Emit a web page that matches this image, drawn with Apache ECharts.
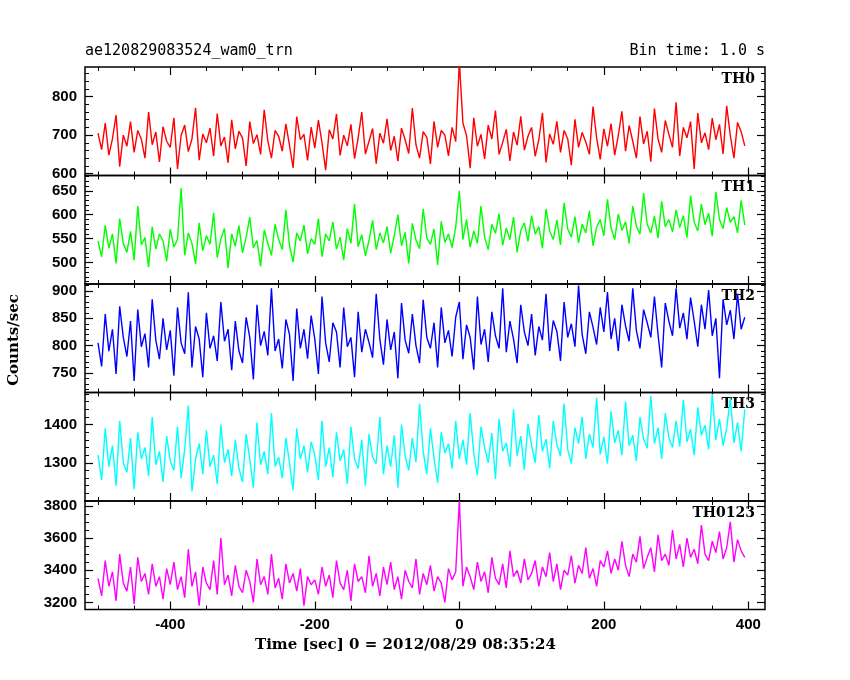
<!DOCTYPE html><html><head><meta charset="utf-8">
<script src="https://cdn.jsdelivr.net/npm/echarts@6/dist/echarts.min.js"></script>
<style>body{margin:0;background:#fff}#c{width:850px;height:680px}</style></head><body><div id="c"></div>
<script>
const T0=-500, STEP=5;
const th0=[705,662,731,648,690,752,618,700,671,735,655,712,689,640,760,675,708,630,722,684,
668,745,612,699,726,657,690,771,635,703,680,718,645,756,672,695,628,740,664,710,
692,620,735,678,701,650,766,685,640,712,697,658,729,673,615,748,688,702,634,721,
666,739,680,609,714,690,755,647,700,672,728,639,693,760,651,684,717,626,705,679,
742,660,697,632,718,688,652,770,675,640,709,694,625,736,668,712,700,646,720,683,
890,731,699,614,745,671,702,638,726,690,764,650,681,715,633,708,674,749,661,697,
720,645,688,758,629,703,676,736,655,712,690,622,741,668,707,682,650,774,693,637,
716,671,730,648,699,762,658,725,684,640,748,677,710,631,769,690,655,738,702,668,
785,646,720,693,735,612,757,680,706,662,744,688,728,651,776,699,640,733,709,672];
const th1=[545,512,578,530,560,498,592,540,521,565,505,618,537,552,490,575,528,560,545,503,
570,532,548,655,515,562,540,497,583,525,556,538,604,510,549,571,488,560,534,577,
520,553,595,531,546,492,568,540,515,580,548,527,610,535,501,562,545,578,518,550,
538,592,512,560,545,585,528,553,505,571,540,622,533,558,514,546,588,527,562,541,
575,519,556,600,535,563,498,582,547,529,612,551,538,570,495,586,542,560,531,574,
650,548,590,532,566,540,618,553,527,580,561,602,536,572,548,595,521,567,583,544,
598,559,575,530,612,566,548,589,537,625,570,553,596,541,580,562,608,535,574,590,
556,632,572,548,601,567,585,540,618,576,559,645,580,562,597,551,628,575,590,564,
610,573,598,552,640,584,566,622,579,603,555,648,590,571,615,584,596,562,630,578];
const th2=[805,762,858,790,830,748,872,815,780,845,735,866,798,822,760,885,810,775,850,792,
828,745,870,805,785,898,760,835,812,742,860,795,818,772,880,808,830,755,845,790,
768,852,815,738,875,800,826,782,905,790,812,758,848,820,735,868,795,830,776,855,
812,748,890,805,770,842,825,760,870,798,815,742,862,788,830,806,778,895,812,765,
848,792,825,740,878,810,786,858,800,768,884,815,795,842,760,870,805,828,780,852,
880,775,838,815,756,890,802,830,770,862,818,795,905,788,845,812,768,875,825,800,
858,782,835,810,895,790,846,826,772,880,815,840,798,910,820,785,862,834,802,870,
825,898,812,850,790,875,836,808,905,828,795,866,842,815,890,820,760,878,845,818,
905,832,860,812,888,845,798,875,830,902,818,850,740,885,838,865,812,895,830,852];
const th3=[1320,1255,1390,1290,1345,1240,1410,1300,1275,1365,1230,1380,1310,1340,1265,1420,1295,1330,1250,1370,
1305,1280,1395,1260,1335,1450,1225,1310,1350,1270,1385,1290,1320,1245,1400,1300,1335,1265,1360,1285,
1250,1375,1310,1235,1405,1295,1330,1270,1430,1290,1315,1260,1365,1300,1228,1390,1310,1345,1275,1355,
1320,1255,1410,1290,1340,1262,1380,1305,1335,1245,1395,1310,1285,1360,1240,1375,1315,1298,1420,1270,
1345,1290,1372,1235,1400,1318,1280,1365,1302,1455,1330,1270,1390,1312,1248,1380,1325,1350,1285,1410,
1310,1360,1295,1430,1325,1268,1395,1340,1300,1378,1258,1415,1330,1352,1290,1440,1318,1370,1282,1402,
1345,1300,1425,1330,1362,1285,1410,1348,1318,1455,1335,1298,1392,1350,1420,1310,1375,1340,1470,1322,
1368,1298,1435,1352,1385,1320,1460,1345,1372,1305,1420,1362,1338,1475,1350,1392,1310,1430,1365,1340,
1410,1342,1465,1355,1388,1320,1445,1372,1398,1335,1480,1360,1415,1345,1390,1470,1352,1405,1330,1440];
const th0123=[3350,3240,3460,3300,3390,3210,3500,3320,3270,3420,3190,3480,3330,3380,3250,3440,3300,3360,3220,3410,
3310,3450,3280,3360,3230,3530,3300,3390,3180,3420,3320,3280,3460,3250,3600,3310,3370,3240,3430,3300,
3260,3400,3330,3200,3470,3310,3360,3250,3500,3290,3350,3220,3440,3320,3380,3270,3410,3180,3360,3310,
3340,3250,3420,3300,3370,3230,3460,3320,3280,3400,3210,3440,3330,3360,3260,3490,3300,3380,3240,3420,
3310,3450,3280,3360,3220,3400,3330,3290,3470,3250,3380,3310,3430,3270,3360,3320,3200,3410,3340,3390,
3830,3300,3420,3360,3280,3450,3330,3390,3260,3480,3350,3310,3440,3290,3520,3360,3400,3320,3470,3340,
3380,3460,3300,3420,3360,3510,3330,3440,3280,3400,3370,3490,3320,3430,3380,3540,3350,3410,3300,3460,
3420,3520,3380,3470,3400,3580,3430,3360,3500,3450,3610,3410,3480,3540,3390,3620,3460,3500,3430,3650,
3470,3560,3420,3600,3480,3530,3440,3680,3500,3460,3580,3510,3640,3470,3540,3700,3450,3590,3520,3480];
const xTicks=[-400,-200,0,200,400];
const xMinor=[-500,-450,-350,-300,-250,-150,-100,-50,50,100,150,250,300,350];
const panelNames=['TH0','TH1','TH2','TH3','TH0123'];
const panelColors=['#ff0000','#00ff00','#0000ff','#00ffff','#ff00ff'];
const panelData=[th0,th1,th2,th3,th0123];
const yRanges=[[595,877],[455,682],[714,913],[1200,1484],[3156,3830]];
const yTicks=[[600,700,800],[500,550,600,650],[750,800,850,900],[1300,1400],[3200,3400,3600,3800]];
const yMinorStep=[20,10,10,20,50];

const tops=[67,175.5,284,392.5,501], H=108.5, L=85, R=85;
const grids=[],xAxes=[],yAxes=[],series=[],graphics=[];
const F='Liberation Sans';
const noLine={show:false,onZero:false};
function minorVals(r,s){const a=[];for(let v=Math.ceil(r[0]/s)*s;v<=r[1];v+=s)a.push(v);return a;}
for(let i=0;i<5;i++){
  grids.push({left:L,right:R,top:tops[i],height:H,show:true,borderColor:'#000',borderWidth:1.5});
  const xb={type:'value',gridIndex:i,min:-518,max:423,splitLine:{show:false},axisLine:noLine};
  const xi=xAxes.length;
  xAxes.push(Object.assign({},xb,{position:'bottom',axisTick:{inside:true,length:8,lineStyle:{color:'#000',width:1.2},customValues:xTicks},
    axisLabel:{show:i===4,customValues:xTicks,color:'#000',fontFamily:F,fontWeight:'bold',fontSize:15,margin:8,formatter:v=>String(v)}}));
  xAxes.push(Object.assign({},xb,{position:'top',axisTick:{inside:true,length:8,lineStyle:{color:'#000',width:1.2},customValues:xTicks},axisLabel:{show:false}}));
  xAxes.push(Object.assign({},xb,{position:'bottom',axisTick:{inside:true,length:4,lineStyle:{color:'#000'},customValues:xMinor},axisLabel:{show:false}}));
  xAxes.push(Object.assign({},xb,{position:'top',axisTick:{inside:true,length:4,lineStyle:{color:'#000'},customValues:xMinor},axisLabel:{show:false}}));
  const yb={type:'value',gridIndex:i,min:yRanges[i][0],max:yRanges[i][1],splitLine:{show:false},axisLine:noLine};
  const yi=yAxes.length;
  const mv=minorVals(yRanges[i],yMinorStep[i]);
  yAxes.push(Object.assign({},yb,{position:'left',axisTick:{inside:true,length:8,lineStyle:{color:'#000',width:1.2},customValues:yTicks[i]},
    axisLabel:{customValues:yTicks[i],color:'#000',fontFamily:F,fontWeight:'bold',fontSize:15,margin:8,formatter:v=>String(v)}}));
  yAxes.push(Object.assign({},yb,{position:'right',axisTick:{inside:true,length:8,lineStyle:{color:'#000',width:1.2},customValues:yTicks[i]},axisLabel:{show:false}}));
  yAxes.push(Object.assign({},yb,{position:'left',axisTick:{inside:true,length:4,lineStyle:{color:'#000'},customValues:mv},axisLabel:{show:false}}));
  yAxes.push(Object.assign({},yb,{position:'right',axisTick:{inside:true,length:4,lineStyle:{color:'#000'},customValues:mv},axisLabel:{show:false}}));
  series.push({type:'line',xAxisIndex:xi,yAxisIndex:yi,symbol:'none',clip:true,
    lineStyle:{color:panelColors[i],width:1.4},data:panelData[i].map((v,k)=>[T0+k*STEP,v])});
  graphics.push({type:'text',right:R+10,top:tops[i]+5,style:{text:panelNames[i],font:'bold 14px "DejaVu Serif"',fill:'#000'}});
}
graphics.push({type:'text',left:L,top:44,style:{text:'ae120829083524_wam0_trn',font:'15px "DejaVu Sans Mono"',fill:'#000'}});
graphics.push({type:'text',right:R,top:44,style:{text:'Bin time: 1.0 s',font:'15px "DejaVu Sans Mono"',fill:'#000'}});
graphics.push({type:'text',left:425-170,top:638,style:{text:'Time [sec] 0 = 2012/08/29 08:35:24',font:'bold 15px "DejaVu Serif"',fill:'#000'}});
graphics.push({type:'text',x:22,y:340,rotation:Math.PI/2,style:{text:'Counts/sec',font:'bold 15px "DejaVu Serif"',fill:'#000',align:'center',verticalAlign:'bottom'}});
const chart=echarts.init(document.getElementById('c'));
chart.setOption({animation:false,backgroundColor:'#fff',grid:grids,xAxis:xAxes,yAxis:yAxes,series:series,graphic:graphics});
</script></body></html>
